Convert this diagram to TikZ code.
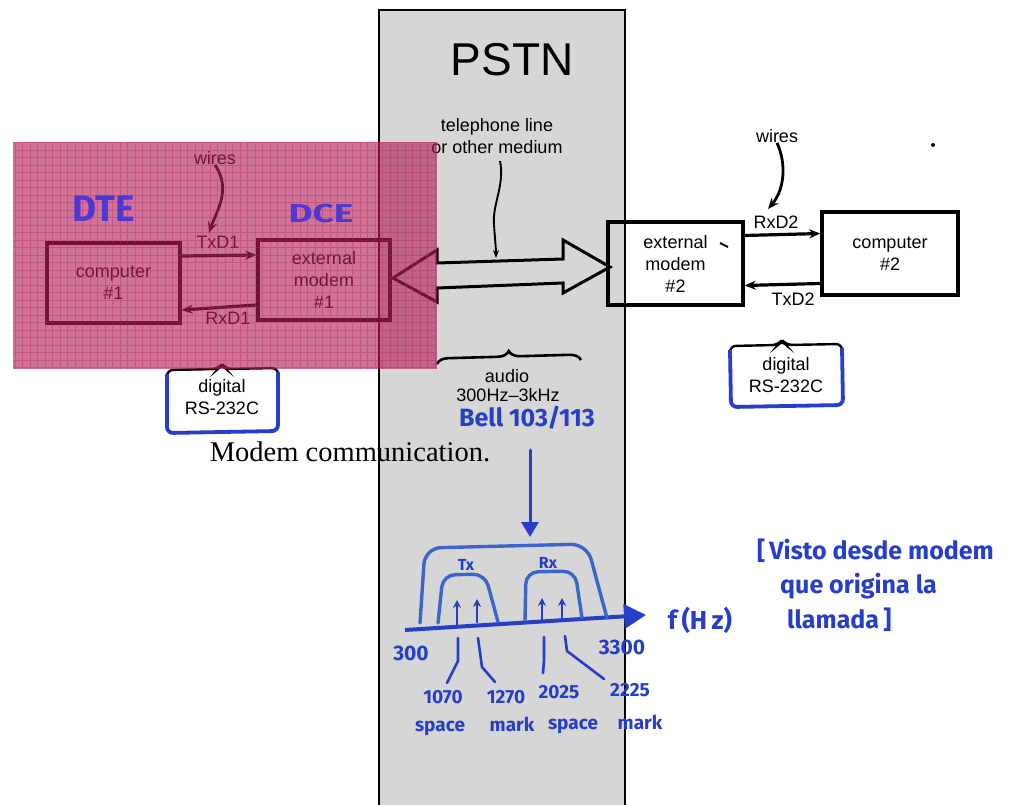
\documentclass[tikz,border=0pt]{standalone}
\usepackage{fontspec}
\setmainfont{Liberation Serif}
\setsansfont{Liberation Sans}
\newfontfamily\handfont{Fira Sans}
\usetikzlibrary{arrows.meta,decorations.pathreplacing,calc}
\definecolor{pen}{RGB}{38,62,200}
\definecolor{penlight}{RGB}{60,100,205}
\definecolor{penviolet}{RGB}{80,55,210}
\definecolor{pstngray}{RGB}{214,214,214}
\definecolor{hilite}{RGB}{180,30,90}
\begin{document}
\begin{tikzpicture}[x=1pt,y=-1pt,
  lbl/.style={font=\sffamily\fontsize{18}{22}\selectfont, align=center, inner sep=0pt},
  unit/.style={lbl, draw=black, line width=3.4pt},
  wire/.style={line width=3.2pt, -{Stealth[length=11pt,width=9pt]}},
  hand/.style={font=\handfont\bfseries\fontsize{19}{22}\selectfont, text=pen, inner sep=0pt},
  bluepen/.style={draw=pen, line width=3pt, line cap=round, line join=round},
  envelope/.style={draw=penlight, line width=3.4pt, line cap=round, rounded corners=12pt},
  leader/.style={draw=pen, line width=2.6pt, line cap=round, line join=round},
]
\useasboundingbox (0,0) rectangle (1017,805);
\fill[white] (0,0) rectangle (1017,805);

% ---- PSTN column ----
\fill[pstngray] (379,10) rectangle (625,805);
\draw[line width=2.2pt] (379,805) -- (379,10) -- (625,10) -- (625,805);
\node[font=\sffamily\fontsize{46}{50}\selectfont, inner sep=0pt] (pstn) at (512,60) {PSTN};

% ---- left station ----
\node[unit, minimum width=133pt, minimum height=80pt] (comp1) at (113.5,283) {computer\\\#1};
\node[unit, minimum width=132pt, minimum height=80pt] (modem1) at (324,280) {external\\modem\\\#1};
\draw[wire] ([yshift=27pt]comp1.east) -- ([yshift=25pt]modem1.west);
\draw[wire] ([yshift=-25pt]modem1.west) -- ([yshift=-27pt]comp1.east);
\node[lbl] (txd1) at (218,242) {TxD1};
\node[lbl] (rxd1) at (228,318) {RxD1};
\node[lbl] (wires1) at (215,158) {wires};
\coordinate (w1end) at (209,233);
\draw[line width=2.8pt, -{Stealth[length=11pt,width=9pt]}] (wires1.south) .. controls (232,190) and (216,212) .. (w1end);

% interface frame, left
\node[lbl] (dig1) at (222,397) {digital\\RS-232C};
\draw[line width=2.4pt, rounded corners=6pt] (167,382) -- (167,370) -- (218,369) -- (222,364) -- (226,369) -- (278,368) -- (278,380);
\draw[pen, line width=3.8pt, rounded corners=6pt] (167,374) -- (167,433) -- (278,431) -- (278,372);

% ---- transmission medium ----
\node[lbl] (medium) at (497,136) {telephone line\\or other medium};
\coordinate (medtip) at (496,258);
\draw[line width=1.9pt, -{Stealth[length=8pt,width=6pt]}] (500,161) .. controls (505,185) and (492,205) .. (494,225) .. controls (495,240) and (496,248) .. (medtip);
\draw[line width=3pt, line join=miter] (393,278) -- (437,250) -- (437,263) -- (563,259) -- (563,240)
  -- (610,267) -- (563,293) -- (563,283) -- (437,288) -- (437,302) -- cycle;
\draw[decorate, decoration={brace, amplitude=11pt}, line width=2.6pt] (437,364) -- (581,360);
\node[lbl] (audio) at (507,376) {audio};
\node[lbl] (band) at (508,395) {300Hz--3kHz};
\node[hand, font=\handfont\fontsize{25}{28}\selectfont] (bell) at (527,418) {\textbf{Bell 103/113}};

% ---- right station ----
\node[unit, minimum width=135pt, minimum height=83pt] (modem2) at (675.5,263.5) {external\\modem\\\#2};
\node[unit, minimum width=136pt, minimum height=83pt] (comp2) at (890,253.5) {computer\\\#2};
\draw[wire] ([yshift=28pt]modem2.east) -- ([yshift=20pt]comp2.west);
\draw[wire] ([yshift=-30pt]comp2.west) -- ([yshift=-22pt]modem2.east);
\node[lbl] (rxd2) at (776,222) {RxD2};
\node[lbl] (txd2) at (793,299) {TxD2};
\node[lbl] (wires2) at (777,136) {wires};
\coordinate (w2end) at (768,209);
\draw[line width=2.8pt, -{Stealth[length=11pt,width=9pt]}] (wires2.south) .. controls (787,165) and (784,190) .. (w2end);
\draw[line width=2pt] (720,243) -- (728,247);
\fill (933,145) circle (2pt);

% interface frame, right
\node[lbl] (dig2) at (786,375) {digital\\RS-232C};
\draw[line width=2.4pt, rounded corners=6pt] (730,358) -- (730,346) -- (778,345) -- (782,340) -- (786,345) -- (842,344) -- (842,356);
\draw[pen, line width=3.8pt, rounded corners=6pt] (730,350) -- (731,407) -- (843,405) -- (842,348);

\node[font=\rmfamily\fontsize{28.5}{30}\selectfont, inner sep=0pt] (caption) at (350,452) {Modem communication.};

% ---- spectrum sketch ----
\coordinate (bellarrow) at (530,450);
\coordinate (spectop) at (530,537);
\draw[bluepen, -{Triangle[length=15pt,width=17pt]}] (bellarrow) -- (spectop);
\coordinate (axl) at (405,630);
\coordinate (axr) at (646,615);
\draw[draw=pen, line width=4pt, -{Triangle[length=22pt,width=24pt]}] (axl) -- (axr);
\node[hand, font=\handfont\bfseries\fontsize{26}{28}\selectfont] (fhz) at (700,620) {f\,(H\,z)};

\draw[envelope, rounded corners=16pt] (420,623) -- (425,548) -- (587,544) -- (607,618);
\draw[envelope] (438,623) -- (443,575) -- (485,574) -- (498,622);
\draw[envelope] (525,620) -- (526,572) -- (575,571) -- (582,618);
\node[hand, font=\handfont\bfseries\fontsize{16}{17}\selectfont] (tx) at (466,565) {Tx};
\node[hand, font=\handfont\bfseries\fontsize{16}{17}\selectfont] (rx) at (548,563) {Rx};

\foreach \x/\y/\t in {457/625/600, 477/622/599, 542/621/598, 562/619/598}
  \draw[leader, -{Stealth[length=8pt,width=8pt]}] (\x,\y) -- (\x,\t);

\draw[leader] (458,638) -- (458,661) -- (447,683);
\draw[leader] (478,638) -- (482,667) -- (495,682);
\draw[leader] (544,637) -- (544,660) -- (543,673);
\draw[leader] (565,636) -- (567,651) -- (604,679);

\node[hand, font=\handfont\bfseries\fontsize{21}{22}\selectfont] (f300) at (411,653) {300};
\node[hand, font=\handfont\bfseries\fontsize{21}{22}\selectfont] (f3300) at (622,647) {3300};
\node[hand] (f1070) at (443,697) {1070};
\node[hand] (f1270) at (506,697) {1270};
\node[hand] (f2025) at (559,692) {2025};
\node[hand] (f2225) at (630,690) {2225};
\node[hand] (s1) at (440,728) {space};
\node[hand] (m1) at (512,724) {mark};
\node[hand] (s2) at (573,726) {space};
\node[hand] (m2) at (640,722) {mark};

% ---- handwritten note ----
\node[hand, font=\handfont\bfseries\fontsize{25}{28}\selectfont, anchor=west] (note1) at (757,551) {[\,Visto desde modem};
\node[hand, font=\handfont\bfseries\fontsize{25}{28}\selectfont, anchor=west] (note2) at (780,586) {que origina la};
\node[hand, font=\handfont\bfseries\fontsize{25}{28}\selectfont, anchor=west] (note3) at (787,620) {llamada\,]};

% ---- translucent highlight over the originating side ----
\fill[hilite, opacity=0.62] (13,142) rectangle (437,369);
\begin{scope}
  \clip (13,142) rectangle (437,369);
  \draw[hilite, opacity=0.35, line width=0.8pt, step=7.5pt] (13,142) grid (437,369);
\end{scope}

% handwritten side labels, written on top of the highlight
\node[font=\handfont\bfseries\fontsize{37}{40}\selectfont, text=penviolet, inner sep=0pt] (dte) at (104,209) {DTE};
\node[font=\handfont\bfseries\fontsize{37}{40}\selectfont, text=penviolet, inner sep=0pt] (dce) at (321,214) {\scalebox{1}[0.7]{DCE}};
\end{tikzpicture}
\end{document}
